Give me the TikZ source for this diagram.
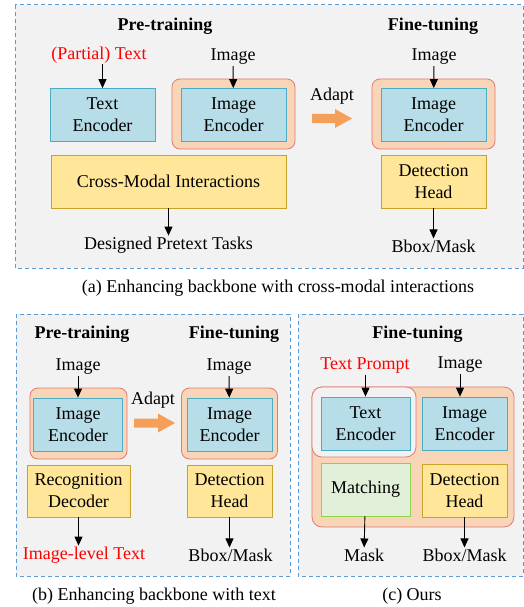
\documentclass[tikz,border=0pt]{standalone}
\usepackage{fontspec}
\setmainfont{Liberation Serif}
\usepackage{tikz}
\usetikzlibrary{arrows.meta, positioning}
\definecolor{panelGray}{HTML}{F2F2F2}
\definecolor{panelDash}{HTML}{5B9BD5}
\definecolor{encFill}{HTML}{B7DDE8}
\definecolor{encLine}{HTML}{4BACC6}
\definecolor{headFill}{HTML}{FFE699}
\definecolor{headLine}{HTML}{C9A227}
\definecolor{matchFill}{HTML}{E2F0D9}
\definecolor{matchLine}{HTML}{92D050}
\definecolor{wrapFill}{HTML}{F9D5B7}
\definecolor{wrapLine}{HTML}{E07A72}
\definecolor{adaptOrange}{HTML}{F5A05A}
\tikzset{
  panel/.style={draw=panelDash, fill=panelGray, line width=1pt, dash pattern=on 4pt off 3pt},
  box/.style={minimum height=53, align=center, line width=0.8pt},
  enc/.style={box, draw=encLine, fill=encFill},
  head/.style={box, draw=headLine, fill=headFill},
  wrapbox/.style={draw=wrapLine, fill=wrapFill, line width=0.8pt, rounded corners=8pt},
  flow/.style={-{Triangle[length=9pt,width=8pt]}, line width=0.9pt},
  hdr/.style={font=\fontsize{18}{22}\selectfont\bfseries},
}

\begin{document}
\begin{tikzpicture}[x=1pt, y=-1pt, every node/.style={inner sep=1pt, font=\fontsize{18}{22}\selectfont}]
  \useasboundingbox (0,0) rectangle (524,607);

  % panels
  \draw[panel] (15,5) rectangle (523,268);
  \draw[panel] (16,314) rectangle (290,576);
  \draw[panel] (298,314) rectangle (523,576);

  %% (a)
  \node[hdr] (preA) at (165,26) {Pre-training};
  \node[hdr] (fineA) at (433,26) {Fine-tuning};
  \node[red] (txtA) at (99,55) {(Partial) Text};
  \node (imgA) at (233,57) {Image};
  \node (imgA2) at (434,57) {Image};
  \node[wrapbox, minimum width=123, minimum height=70] (wrapA) at (233.5,114) {};
  \node[enc, minimum width=105] (tencA) at (102.5,115) {Text\\Encoder};
  \node[enc, minimum width=105] (iencA) at (233.5,115) {Image\\Encoder};
  \node[head, minimum width=235] (cmiA) at (168.5,181.5) {Cross-Modal Interactions};
  \node (taskA) at (168.5,245) {Designed Pretext Tasks};
  \node (adaptA) at (332,96) {Adapt};
  \fill[adaptOrange, shift={(312,118.5)}] (0,-4.5) -- (23,-4.5) -- (23,-9.5) -- (40,0) -- (23,9.5) -- (23,4.5) -- (0,4.5) -- cycle;
  \node[wrapbox, minimum width=123, minimum height=70] (wrapA2) at (433.5,114) {};
  \node[enc, minimum width=105] (iencA2) at (433.5,115) {Image\\Encoder};
  \node[head, minimum width=105] (detA) at (433.5,181.5) {Detection\\Head};
  \node (outA) at (433.5,246) {Bbox/Mask};
  \node (capA) at (278,288) {(a) Enhancing backbone with cross-modal interactions};

  \draw[flow] (tencA.north |- txtA.south) -- (tencA.north);
  \draw[flow] (imgA) -- (iencA);
  \draw[flow] (imgA2) -- (iencA2);
  \draw[flow] (cmiA) -- (taskA);
  \draw[flow] (detA) -- (outA);

  %% (b)
  \node[hdr] (preB) at (82,334) {Pre-training};
  \node[hdr] (fineB) at (234,334) {Fine-tuning};
  \node (imgB) at (78,367) {Image};
  \node (imgB2) at (229,367) {Image};
  \node[wrapbox, minimum width=97, minimum height=71] (wrapB) at (78.5,423.5) {};
  \node[enc, minimum width=89] (iencB) at (78,424.5) {Image\\Encoder};
  \node[head, minimum width=103, minimum height=52] (recB) at (78.5,491) {Recognition\\Decoder};
  \node[red] (lvlB) at (84,555) {Image-level Text};
  \node (adaptB) at (153,400) {Adapt};
  \fill[adaptOrange, shift={(134,423)}] (0,-4.5) -- (24,-4.5) -- (24,-9.5) -- (41,0) -- (24,9.5) -- (24,4.5) -- (0,4.5) -- cycle;
  \node[wrapbox, minimum width=96, minimum height=71] (wrapB2) at (229.5,423.5) {};
  \node[enc, minimum width=85] (iencB2) at (229.5,424.5) {Image\\Encoder};
  \node[head, minimum width=85, minimum height=52] (detB) at (229.5,491) {Detection\\Head};
  \node (outB) at (230.5,555) {Bbox/Mask};
  \node (capB) at (154,596) {(b) Enhancing backbone with text};

  \draw[flow] (imgB) -- (iencB);
  \draw[flow] (imgB2) -- (iencB2);
  \draw[flow] (recB) -- (recB |- lvlB.north);
  \draw[flow] (detB) -- (detB |- outB.north);

  %% (c)
  \node[hdr] (fineC) at (417.5,334) {Fine-tuning};
  \node[red] (promptC) at (365,366) {Text Prompt};
  \node (imgC) at (460,365) {Image};
  \draw[wrapbox, rounded corners=10pt] (312,387) rectangle (514,527);
  \draw[wrapbox, fill=panelGray, rounded corners=10pt] (312,387) rectangle (416,457);
  \node[enc, minimum width=89] (tencC) at (365.5,423.5) {Text\\Encoder};
  \node[enc, minimum width=85] (iencC) at (464.5,423.5) {Image\\Encoder};
  \node[box, draw=matchLine, fill=matchFill, minimum width=89] (matC) at (365.5,489.5) {Matching};
  \node[head, minimum width=85] (detC) at (464.5,490.5) {Detection\\Head};
  \node (maskC) at (364,555) {Mask};
  \node (outC) at (464.5,555) {Bbox/Mask};
  \node (capC) at (412,596) {(c) Ours};

  \draw[flow] (promptC.south -| tencC.north) -- (tencC.north);
  \draw[flow] (imgC) -- (imgC |- iencC.north);
  \draw[flow] (matC) -- (maskC);
  \draw[flow] (detC) -- (outC);

\end{tikzpicture}
\end{document}
